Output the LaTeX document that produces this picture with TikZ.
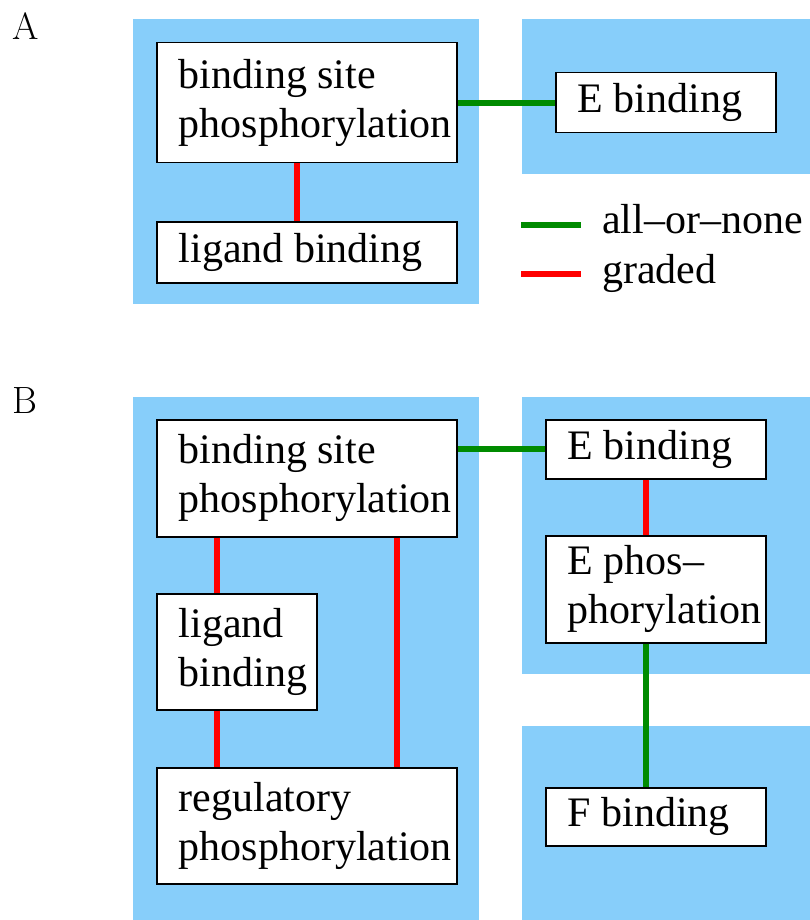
\documentclass[tikz,border=0pt]{standalone}
\usepackage{fontspec}
\newfontfamily\tmsfont{Liberation Serif}
\definecolor{grpblue}{RGB}{135,206,250}
\definecolor{lnkgreen}{RGB}{0,139,0}
\hyphenpenalty=10000
\tikzset{
	mod_box/.style = {draw=black, line width=1.5pt, fill=white, anchor=north west,
		align=left, inner xsep=22pt, inner ysep=0pt,
		font=\tmsfont\fontsize{42}{49}\selectfont,
		execute at begin node={\spaceskip=0.25em\relax}},
	grp_bg/.style = {fill=grpblue},
	lnk_g/.style = {draw=lnkgreen, line width=6pt},
	lnk_r/.style = {draw=red, line width=6pt},
	leg_txt/.style = {anchor=base west, inner sep=0pt,
		font=\tmsfont\fontsize{42}{49}\selectfont},
	pnl_lbl/.style = {anchor=base west, inner sep=0pt,
		font=\fontsize{38}{40}\selectfont}
}
\begin{document}
\begin{tikzpicture}[x=1pt,y=-1pt]
\useasboundingbox (0,0) rectangle (810,920);
% background groups
\fill[grp_bg] (133,19) rectangle (479,304);
\fill[grp_bg] (522,19) rectangle (810,174);
\fill[grp_bg] (133,397) rectangle (479,920);
\fill[grp_bg] (522,397) rectangle (810,674);
\fill[grp_bg] (522,726) rectangle (810,920);
% panel A
\node[pnl_lbl] (lblA) at (12,40) {A};
\node[mod_box, text width=256pt, minimum height=120pt] (bsA) at (156,42) {binding site\\phosphorylation};
\node[mod_box, text width=256pt, minimum height=61pt] (lgA) at (156,221) {ligand binding};
\node[mod_box, text width=176pt, minimum height=60pt] (ebA) at (555,72) {E binding};
\draw[lnk_g] (bsA.east) -- (ebA.west);
\draw[lnk_r] ([xshift=-10]bsA.south) -- ([xshift=-10]lgA.north);
% legend
\coordinate (legG1) at (521,225);
\coordinate (legG2) at (581,225);
\coordinate (legR1) at (521,274);
\coordinate (legR2) at (581,274);
\draw[lnk_g] (legG1) -- (legG2);
\draw[lnk_r] (legR1) -- (legR2);
\node[leg_txt] (legAll) at (602,233) {all–or–none};
\node[leg_txt] (legGrd) at (602,283) {graded};
% panel B
\node[pnl_lbl] (lblB) at (12,413) {B};
\node[mod_box, text width=256pt, minimum height=117pt] (bsB) at (156,419) {binding site\\phosphorylation};
\node[mod_box, text width=116pt, minimum height=116pt] (lgB) at (156,593) {ligand\\binding};
\node[mod_box, text width=256pt, minimum height=116pt] (rpB) at (156,767) {regulatory\\phosphorylation};
\node[mod_box, text width=176pt, minimum height=59pt] (ebB) at (545,419) {E binding};
\node[mod_box, text width=176pt, minimum height=107pt] (epB) at (545,535) {E phos–\\phorylation};
\node[mod_box, text width=176pt, minimum height=58pt] (fbB) at (545,787) {F binding};
\draw[lnk_g] (ebB.west -| bsB.east) -- (ebB.west);
\draw[lnk_r] ([xshift=-20]lgB.north |- bsB.south) -- ([xshift=-20]lgB.north);
\draw[lnk_r] ([xshift=-20]lgB.south) -- ([xshift=-20]lgB.south |- rpB.north);
\draw[lnk_r] ([xshift=90]bsB.south) -- ([xshift=90]rpB.north);
\draw[lnk_r] ([xshift=-10]ebB.south) -- ([xshift=-10]epB.north);
\draw[lnk_g] ([xshift=-10]epB.south) -- ([xshift=-10]fbB.north);
\end{tikzpicture}
\end{document}
